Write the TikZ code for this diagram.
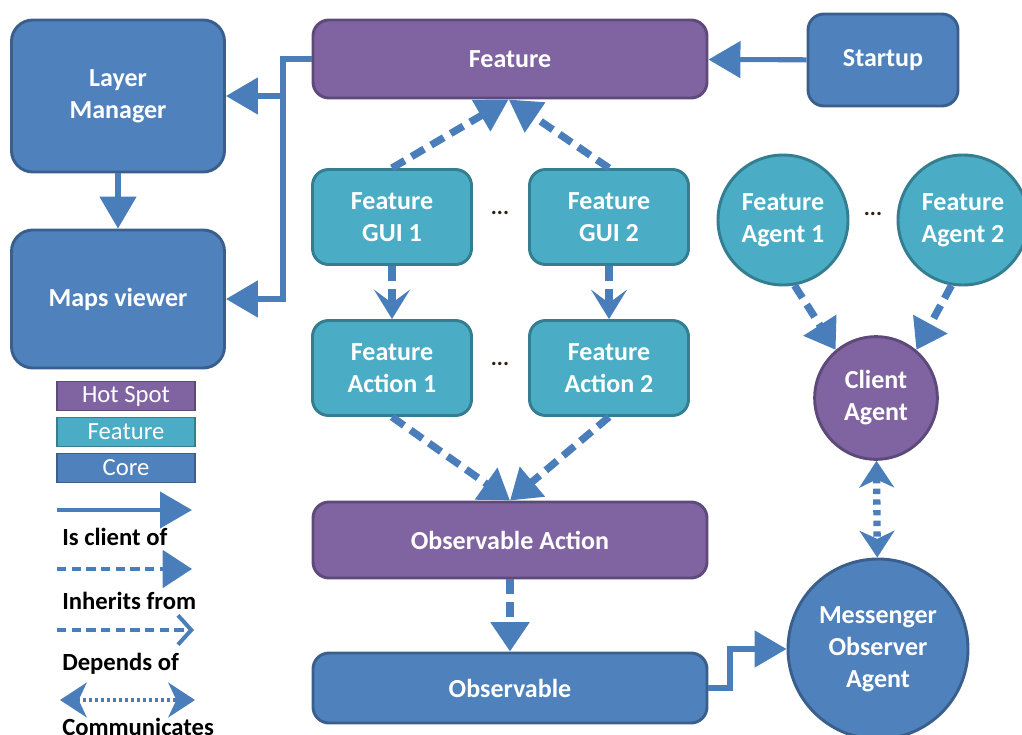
\documentclass[tikz,border=0pt]{standalone}
\usepackage{fontspec}
\setmainfont{Carlito}
\usetikzlibrary{arrows.meta,positioning}
\definecolor{hotfill}{HTML}{8064A2}
\definecolor{hotline}{HTML}{5E4A7A}
\definecolor{featfill}{HTML}{4BACC6}
\definecolor{featline}{HTML}{357D91}
\definecolor{corefill}{HTML}{4F81BD}
\definecolor{coreline}{HTML}{3A5F8C}
\definecolor{arrowcol}{HTML}{4A7EBB}
\tikzset
{
    box/.style      = {rectangle, rounded corners=12pt, line width=2.2pt, align=center, text=white, font=\fontsize{19.5}{24}\selectfont\bfseries},
    hotspot/.style  = {box, fill=hotfill, draw=hotline},
    featbox/.style  = {box, fill=featfill, draw=featline},
    corebox/.style  = {box, fill=corefill, draw=coreline},
    agent/.style    = {circle, line width=2.2pt, align=center, text=white, inner sep=0pt, font=\fontsize{19.5}{24}\selectfont\bfseries},
    keybox/.style   = {rectangle, line width=1.2pt, minimum width=103.5pt, minimum height=21.75pt, inner sep=0pt, text=white, font=\fontsize{18.5}{20}\selectfont},
    keytext/.style  = {anchor=west, inner sep=0pt, font=\fontsize{18.5}{20}\selectfont\bfseries},
    dots/.style     = {font=\fontsize{17}{18}\selectfont\bfseries, text=black!75!brown},
    isclient/.style = {draw=arrowcol, line width=3.8pt, -{Triangle[length=24pt,width=27pt]}},
    inherits/.style = {draw=arrowcol, line width=5.5pt, dash pattern=on 11pt off 6pt, -{Triangle[length=22pt,width=28pt]}},
    dependson/.style= {draw=arrowcol, line width=5.5pt, dash pattern=on 11pt off 6pt, -{Stealth[length=22pt,width=27pt,inset=10pt]}},
    keydepends/.style = {draw=arrowcol, line width=3pt, dash pattern=on 7pt off 4pt, -{Straight Barb[length=10pt,width=22pt]}},
    communicates/.style = {draw=arrowcol, line width=5.5pt, dash pattern=on 4pt off 4pt, {Stealth[length=20pt,width=26pt,inset=6pt]}-{Stealth[length=20pt,width=26pt,inset=6pt]}}
}

\begin{document}
\begin{tikzpicture}[x=0.75pt, y=-0.75pt]
   \useasboundingbox (0,0) rectangle (1022,735);

   % core and hot spot boxes
   \node (layer)  [corebox, minimum width=159.75pt, minimum height=114pt, rounded corners=16pt]  at (118, 96)  {Layer\\Manager};
   \node (maps)   [corebox, minimum width=159.75pt, minimum height=103.5pt, rounded corners=16pt] at (118, 299) {Maps viewer};
   \node (feature)[hotspot, minimum width=295.5pt, minimum height=58.5pt] at (510, 59)  {Feature};
   \node (startup)[corebox, minimum width=112.5pt, minimum height=69pt]   at (883, 60)  {Startup};

   % feature boxes
   \node (gui1)   [featbox, minimum width=119.25pt, minimum height=71.25pt] at (392, 217) {Feature\\GUI 1};
   \node (gui2)   [featbox, minimum width=119.25pt, minimum height=71.25pt] at (609, 217) {Feature\\GUI 2};
   \node (act1)   [featbox, minimum width=119.25pt, minimum height=71.25pt] at (392, 368) {Feature\\Action 1};
   \node (act2)   [featbox, minimum width=119.25pt, minimum height=71.25pt] at (609, 368) {Feature\\Action 2};

   \node (obsact) [hotspot, minimum width=295.5pt, minimum height=57pt]   at (510, 540) {Observable Action};
   \node (obs)    [corebox, minimum width=295.5pt, minimum height=52.5pt] at (510, 688) {Observable};

   % agents
   \node (agent1) [agent, fill=featfill, draw=featline, minimum size=97.5pt] at (783, 220) {Feature\\Agent 1};
   \node (agent2) [agent, fill=featfill, draw=featline, minimum size=97.5pt] at (963, 220) {Feature\\Agent 2};
   \node (client) [agent, fill=hotfill, draw=hotline, minimum size=92pt]     at (876, 398) {Client\\Agent};
   \node (msg)    [agent, fill=corefill, draw=coreline, minimum size=135pt] at (878, 649) {Messenger\\Observer\\Agent};

   \node (dotsa)  [dots] at (500, 213) {...};
   \node (dotsb)  [dots] at (500, 364) {...};
   \node (dotsc)  [dots] at (873, 214) {...};

   % legend
   \node (khot)   [keybox, fill=hotfill, draw=hotline]   at (126, 396) {Hot Spot};
   \node (kfeat)  [keybox, fill=featfill, draw=featline] at (126, 432) {Feature};
   \node (kcore)  [keybox, fill=corefill, draw=coreline] at (126, 468) {Core};

   \coordinate (ka1) at (57, 510);  \coordinate (ka2) at (192, 510);
   \coordinate (kb1) at (57, 569);  \coordinate (kb2) at (192, 569);
   \coordinate (kc1) at (57, 630);  \coordinate (kc2) at (194, 630);
   \coordinate (kd1) at (60, 700);  \coordinate (kd2) at (195, 700);
   \node (tclient) [keytext] at (62, 537) {Is client of};
   \node (tinh)    [keytext] at (62, 601) {Inherits from};
   \node (tdep)    [keytext] at (62, 664) {Depends of};
   \node (tcom)    [keytext] at (62, 727) {Communicates};

   \coordinate (bus) at (283, 59);
   \coordinate (jog) at (730, 688);

   \path
      (startup)  edge[isclient]  (feature)
      (layer)    edge[isclient]  (maps)
      (gui1.north) edge[inherits, -{Triangle[length=24pt,width=26pt]}] ([xshift=-1pt]feature.south)
      (gui2.north) edge[inherits, -{Triangle[length=24pt,width=26pt]}] ([xshift=-1pt]feature.south)
      (gui1)     edge[dependson] (act1)
      (gui2)     edge[dependson] (act2)
      (act1.south) edge[inherits] (obsact.north)
      (act2.south) edge[inherits] (obsact.north)
      (obsact)   edge[inherits]  (obs)
      (agent1.-80) edge[inherits] (client.130)
      (agent2.-100) edge[inherits] (client.50)
      (client)   edge[communicates] (msg)
      (ka1) edge[isclient, line width=3pt]   (ka2)
      (kb1) edge[inherits, line width=3pt, dash pattern=on 7pt off 4pt] (kb2)
      (kc1) edge[keydepends] (kc2)
      (kd1) edge[communicates, line width=3pt, dash pattern=on 2pt off 2.5pt] (kd2);

   \draw[isclient] (feature.west) -- (bus) |- (maps.east);
   \draw[isclient] (bus) |- (layer.east);
   \draw[isclient] (obs.east) -- (jog) |- (msg.west);
\end{tikzpicture}
\end{document}
